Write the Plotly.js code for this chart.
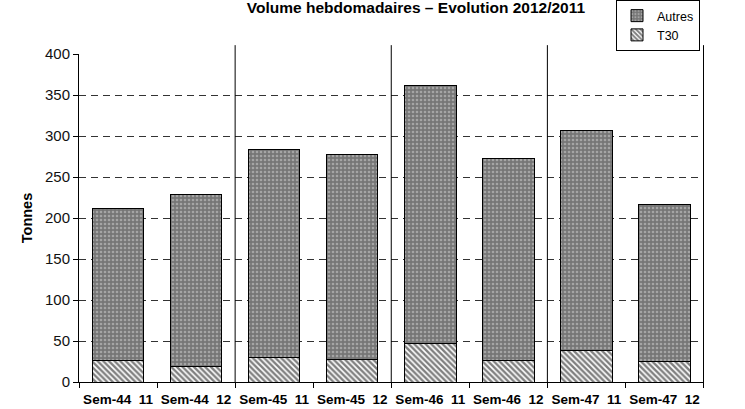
<!DOCTYPE html>
<html><head><meta charset="utf-8">
<script src="https://cdn.plot.ly/plotly-3.0.1.min.js"></script>
<style>html,body{margin:0;padding:0;background:#fff}#c{width:745px;height:409px}</style>
</head><body><div id="c"></div>
<script>
const categories = ["Sem-44\u00a0\u00a011","Sem-44\u00a0\u00a012","Sem-45\u00a0\u00a011","Sem-45\u00a0\u00a012","Sem-46\u00a0\u00a011","Sem-46\u00a0\u00a012","Sem-47\u00a0\u00a011","Sem-47\u00a0\u00a012"];
const totals = [212, 229, 283, 277, 361, 273, 307, 216];
const t30 = [26, 19, 30, 28, 47, 26, 39, 25];
const autres = totals.map((t,i)=>t - t30[i]);
const yTicks = [0,50,100,150,200,250,300,350,400];
const FONT = '"Liberation Sans", Arial, sans-serif';

const traces = [
  {type:'bar', name:'T30', x:categories, y:t30,
   marker:{color:'#000', line:{color:'#000', width:1},
     pattern:{shape:'\\', bgcolor:'#ffffff', fgcolor:'#000000', size:4, solidity:0.6, fillmode:'overlay'}}},
  {type:'bar', name:'Autres', x:categories, y:autres,
   marker:{color:'#777', line:{color:'#000', width:1},
     pattern:{shape:'.', bgcolor:'#767676', fgcolor:'#d4d4d4', size:4, solidity:0.35, fillmode:'overlay'}}}
];

const shapes = [];
for (let i = 1; i < categories.length; i += 2) {
  shapes.push({type:'line', xref:'x', yref:'paper', x0:i+0.5, x1:i+0.5, y0:0, y1:1.027,
    line:{color:'#000', width:1}});
}

const layout = {
  width:745, height:409,
  margin:{l:79, r:41, t:54, b:27, autoexpand:false},
  paper_bgcolor:'#fff', plot_bgcolor:'#fff',
  barmode:'stack', bargap:0.34,
  font:{family:FONT, color:'#000'},
  title:{text:'<b>Volume hebdomadaires – Evolution 2012/2011</b>', font:{size:15.5, color:'#000', family:FONT},
    x:416/745, xanchor:'center', xref:'container', y:0.981, yanchor:'middle', yref:'container'},
  xaxis:{type:'category', tickson:'boundaries', ticks:'outside', ticklen:5, tickcolor:'#000', tickangle:0,
    showline:true, linecolor:'#000', linewidth:1, showgrid:false, automargin:false, ticklabelstandoff:5,
    tickfont:{size:13.5, family:FONT, color:'#000', weight:'bold'}},
  yaxis:{range:[0,400], tickvals:yTicks, ticks:'outside', ticklen:5, tickcolor:'#000',
    showline:true, linecolor:'#000', linewidth:1, zeroline:false, automargin:false,
    showgrid:true, gridcolor:'#333', gridwidth:1, griddash:'7px,5px',
    tickfont:{size:15, color:'#111', family:FONT},
    title:{text:'<b>Tonnes</b>', font:{size:14.5, color:'#000', family:FONT}, standoff:8}},
  legend:{x:(700-79)/625, xanchor:'right', y:(382-0)/328, yanchor:'top', traceorder:'reversed',
    bordercolor:'#000', borderwidth:1, bgcolor:'#fff', font:{size:12.5, color:'#000', family:FONT},
    tracegroupgap:0, itemwidth:30},
  shapes:shapes
};
Plotly.newPlot('c', traces, layout, {staticPlot:true});
</script></body></html>
